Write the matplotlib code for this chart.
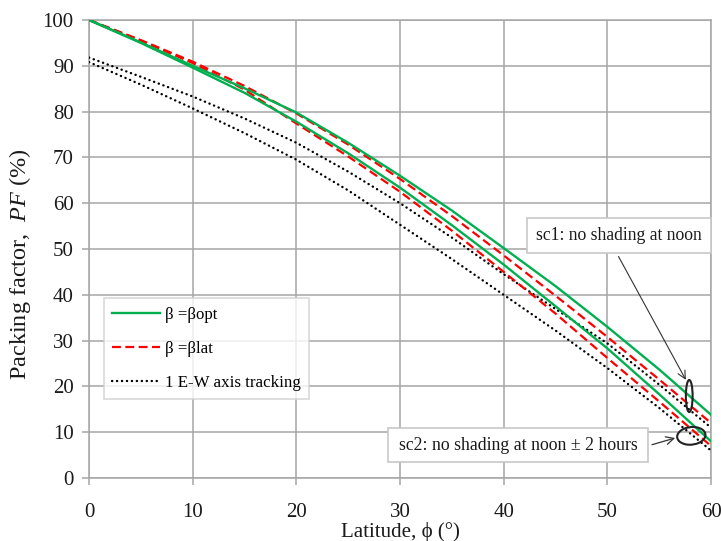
import matplotlib
matplotlib.use("Agg")
import matplotlib.pyplot as plt
from matplotlib.patches import Ellipse, Rectangle

plt.rcParams['font.family'] = ['Liberation Serif', 'DejaVu Serif']
plt.rcParams['mathtext.fontset'] = 'custom'
plt.rcParams['mathtext.rm'] = 'Liberation Serif'
plt.rcParams['mathtext.it'] = 'Liberation Serif:italic'

# ---- data ----
latitude = [0, 5, 10, 15, 20, 25, 30, 35, 40, 45, 50, 55, 60]
opt_sc1 = [100, 95.1, 90.0, 85.1, 79.8, 73.2, 66.0, 58.4, 50.2, 41.9, 33.0, 23.7, 13.8]
opt_sc2 = [100, 95.0, 89.6, 84.1, 77.8, 70.9, 63.4, 55.2, 46.6, 37.5, 28.3, 18.3, 8.0]
lat_sc1 = [100, 95.6, 90.9, 85.6, 79.6, 72.8, 65.3, 57.2, 48.6, 39.8, 30.8, 21.5, 12.0]
lat_sc2 = [100, 95.5, 90.6, 84.8, 77.4, 70.2, 62.5, 54.0, 45.0, 35.9, 26.2, 16.7, 7.0]
ew_sc1 = [91.8, 87.6, 83.3, 78.5, 73.2, 66.9, 60.0, 52.5, 44.5, 36.9, 29.4, 20.4, 11.0]
ew_sc2 = [90.8, 85.9, 80.7, 75.3, 69.5, 62.8, 55.3, 47.8, 40.0, 32.2, 24.0, 15.3, 6.0]

labels = ['β =βopt', 'β =βlat', '1 E-W axis tracking']
x_ticks = [0, 10, 20, 30, 40, 50, 60]
y_ticks = [0, 10, 20, 30, 40, 50, 60, 70, 80, 90, 100]

green = '#00b050'
red = '#ff0000'
grid_c = '#a6a6a6'
txt_c = '#1a1a1a'

fig = plt.figure(figsize=(7.21, 5.41), dpi=100)
ax = fig.add_axes([89/721, 63/541, 622/721, 458/541])

ax.plot(latitude, ew_sc1, color='black', lw=1.7, linestyle=(0, (0.1, 2.0)),
        dash_capstyle='round', label=labels[2], zorder=3)
ax.plot(latitude, ew_sc2, color='black', lw=1.7, linestyle=(0, (0.1, 2.0)),
        dash_capstyle='round', zorder=3)
ax.plot(latitude, lat_sc1, color=red, lw=1.6, linestyle=(0, (4, 2)), label=labels[1], zorder=4)
ax.plot(latitude, lat_sc2, color=red, lw=1.6, linestyle=(0, (4, 2)), zorder=4)
ax.plot(latitude, opt_sc1, color=green, lw=1.7, label=labels[0], zorder=5)
ax.plot(latitude, opt_sc2, color=green, lw=1.7, zorder=5)

ax.set_xlim(0, 60)
ax.set_ylim(0, 100)
ax.set_xticks(x_ticks)
ax.set_yticks(y_ticks)
ax.grid(True, color=grid_c, lw=1.1)
ax.set_axisbelow(True)
for s in ax.spines.values():
    s.set_color(grid_c)
    s.set_linewidth(1.1)
ax.tick_params(axis='both', colors=grid_c, length=5, width=1.1, labelsize=15,
               labelcolor=txt_c, direction='out')
ax.tick_params(axis='x', pad=13)
ax.tick_params(axis='y', pad=6)

ax.set_xlabel('Latitude, ϕ (°)', fontsize=15, color=txt_c, labelpad=0)
ax.set_ylabel('Packing factor,  $\\mathit{PF}$ (%)', fontsize=17.5, color=txt_c)
ax.yaxis.set_label_coords(-0.09, 0.467)

# legend (green, red, black order)
h, l = ax.get_legend_handles_labels()
order = [l.index(t) for t in labels]
leg = ax.legend([h[i] for i in order], [l[i] for i in order],
                loc='lower left', bbox_to_anchor=(0.024, 0.1725), borderaxespad=0,
                fontsize=12.2, frameon=True, fancybox=False, handlelength=2.8,
                labelspacing=1.05, borderpad=0.5, handletextpad=0.3)
leg.get_frame().set_edgecolor('#d0d0d0')
leg.get_frame().set_linewidth(1.2)
leg.set_zorder(10)

# annotation boxes
ax.add_patch(Rectangle((42.25, 49.1), 17.75, 7.7, fc='white', ec='#c8c8c8', lw=1.2,
                       zorder=8, clip_on=False))
ax.text(51.15, 52.95, 'sc1: no shading at noon', ha='center', va='center',
        fontsize=12.7, color=txt_c, zorder=9)
ax.add_patch(Rectangle((28.84, 3.5), 25.06, 7.4, fc='white', ec='#c8c8c8', lw=1.2,
                       zorder=8, clip_on=False))
ax.text(41.4, 7.1, 'sc2: no shading at noon ± 2 hours', ha='center', va='center',
        fontsize=12.8, color=txt_c, zorder=9)

# arrows
ax.annotate('', xy=(57.7, 20.9), xytext=(50.95, 48.9),
            arrowprops=dict(arrowstyle='->', color='#333333', lw=0.8,
                            mutation_scale=14), zorder=9)
ax.annotate('', xy=(56.8, 8.9), xytext=(54.05, 7.1),
            arrowprops=dict(arrowstyle='->', color='#333333', lw=0.9,
                            mutation_scale=14), zorder=9)

# ellipses
ax.add_patch(Ellipse((57.9, 17.9), 0.65, 7.0, fill=False, ec='#222222', lw=1.5, zorder=9))
ax.add_patch(Ellipse((58.1, 9.2), 2.7, 3.9, angle=-8, fill=False, ec='#222222', lw=1.5, zorder=9))

fig.savefig('out.png', dpi=100)
